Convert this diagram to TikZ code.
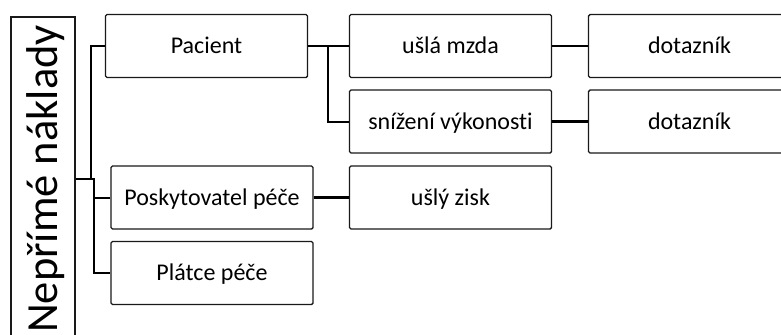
\documentclass[tikz,border=0pt]{standalone}
\usepackage{fontspec}
\setmainfont{Carlito}[Ligatures=NoCommon]
\begin{document}
\begin{tikzpicture}[x=1bp,y=-1bp,
  box/.style={draw=black!90, line width=1.4bp, rounded corners=1.5bp,
    minimum width=202bp, minimum height=63bp, inner sep=0pt,
    font=\fontsize{24bp}{28bp}\selectfont, text height=15bp, text depth=0bp},
  conn/.style={draw=black, line width=2bp},
  thick conn/.style={draw=black, line width=3bp}]
\clip (0,0) rectangle (781,334);
\useasboundingbox (0,0) rectangle (781,334);

% root box, running off the bottom edge
\node[draw=black!90, line width=1.4bp, minimum width=64bp, minimum height=324bp,
  inner sep=0pt] (root) at (43,179) {};
\node[rotate=90, anchor=base west, inner sep=0pt,
  font=\fontsize{44.5bp}{50bp}\selectfont] (roottxt) at (57.5,333) {Nepřímé náklady};

% first level
\node[box] (pac)  at (206.5,46)    {Pacient};
\node[box] (posk) at (212,197.5)   {Poskytovatel péče};
\node[box] (plat) at (212,273)     {Plátce péče};

% second level
\node[box] (usla) at (450.5,46)    {ušlá mzda};
\node[box] (sniz) at (450.5,121.5) {snížení výkonosti};
\node[box] (zisk) at (450.5,197.5) {ušlý zisk};

% third level, cut by the right edge
\node[box] (dot1) at (689.5,46)    {dotazník};
\node[box] (dot2) at (689.5,121.5) {dotazník};

% connectors
\coordinate (jA) at (91,179);
\coordinate (jB) at (94,179);
\coordinate (jC) at (328,46);

\draw[conn] (root.east) -- (jB) |- (posk.west);
\draw[conn] (jB) |- (plat.west);
\draw[conn] (jA) |- (pac.west);

\draw[conn] (pac.east) -- (usla.west);
\draw[conn] (jC) |- (sniz.west);
\draw[conn] (usla.east) -- (dot1.west);
\draw[thick conn] (sniz.east) -- (dot2.west);
\draw[thick conn] (posk.east) -- (zisk.west);
\end{tikzpicture}
\end{document}
